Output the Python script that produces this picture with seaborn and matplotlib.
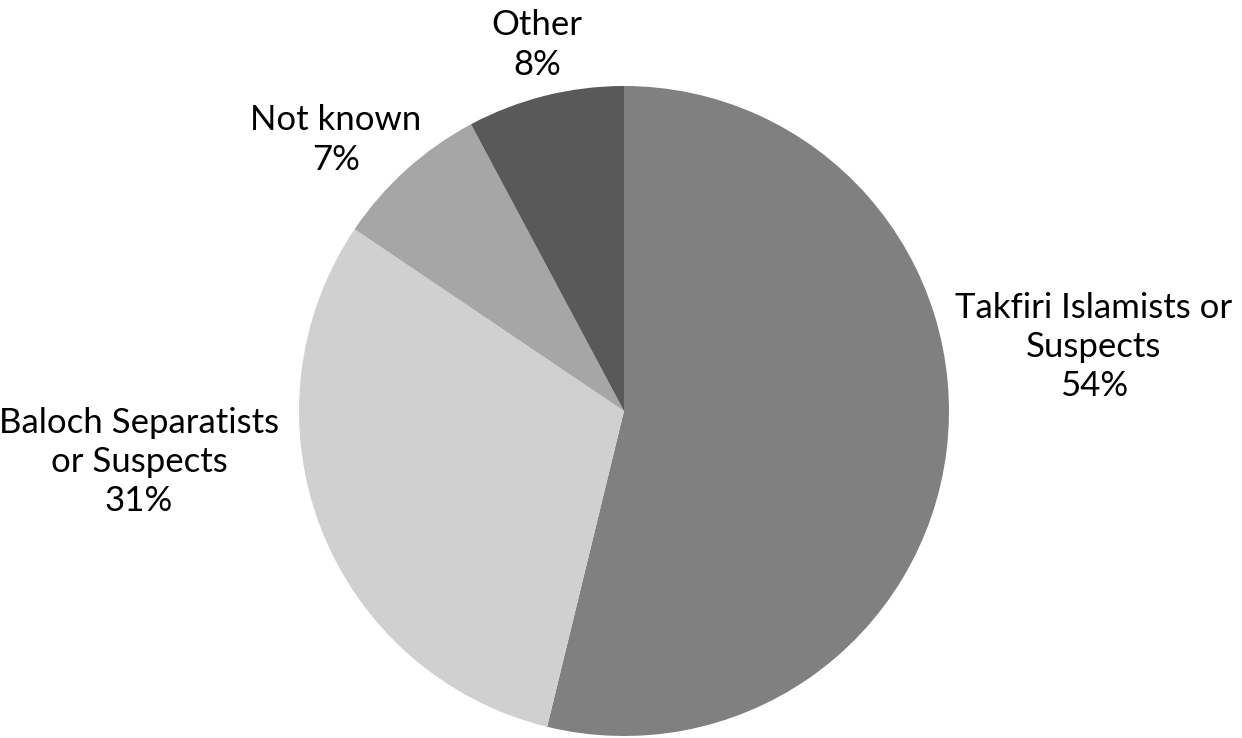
import matplotlib
matplotlib.use("Agg")
import matplotlib.pyplot as plt
import seaborn as sns

# Data
groups = ["Takfiri Islamists or\nSuspects", "Baloch Separatists\nor Suspects", "Not known", "Other"]
# wedge sizes as measured from the slice angles; printed labels as shown
shares = [53.8, 30.65, 7.75, 7.8]
pct_labels = [54, 31, 7, 8]
grays = ["#808080", "#d0d0d0", "#a6a6a6", "#595959"]

# label centres in radius units (pie centre = 0,0)
label_pos = [(1.446, 0.197), (-1.492, -0.157), (-0.886, 0.834), (-0.268, 1.126)]

sns.set_theme(style="white")
plt.rcParams['font.family'] = ['Lato', 'DejaVu Sans']

fig = plt.figure(figsize=(12.42, 7.38), dpi=100)
ax = fig.add_axes([0, 0, 1, 1])

wedges, texts = ax.pie(
    shares,
    colors=grays,
    startangle=90,
    counterclock=False,
    radius=1.0,
    labels=[f"{g}\n{p}%" for g, p in zip(groups, pct_labels)],
    wedgeprops=dict(linewidth=0),
    textprops=dict(fontsize=25, color="#000000", ha="center", va="center",
                   multialignment="center", linespacing=1.28),
)

# move labels to where the reference has them
for t, (x, y) in zip(texts, label_pos):
    t.set_position((x, y))
    t.set_ha("center")
    t.set_va("center")

ax.set_xlim(-624 / 325, (1242 - 624) / 325)
ax.set_ylim(-(738 - 411) / 325, 411 / 325)
ax.set_aspect("equal")
ax.axis("off")

fig.savefig("out.png", dpi=100, facecolor="white")
